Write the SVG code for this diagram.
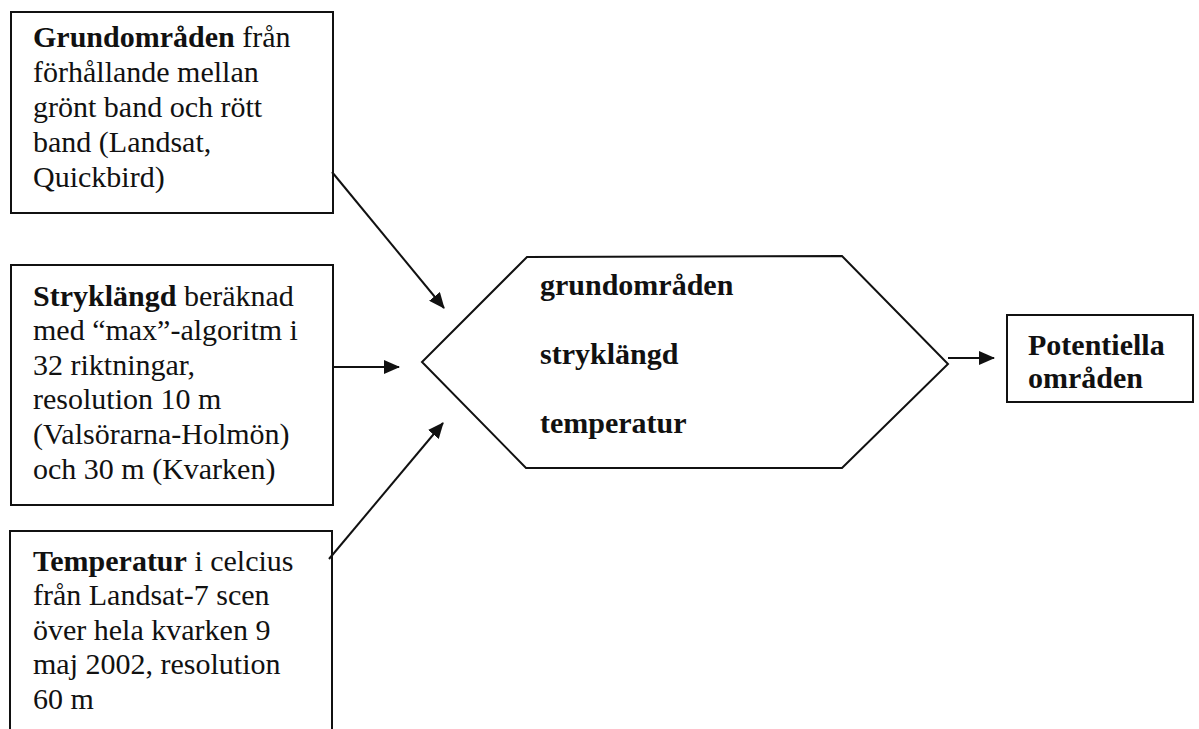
<svg xmlns="http://www.w3.org/2000/svg" width="1199" height="729" viewBox="0 0 1199 729">
<style>
.box{fill:#fff;stroke:#111;stroke-width:2}
.t{font-family:"Liberation Serif","Times New Roman",serif;font-size:30px;fill:#111}
.b{font-weight:bold}
.con{stroke:#111;stroke-width:2;fill:none}
</style>
<defs>
<marker id="ah" markerWidth="16" markerHeight="14" refX="15" refY="7" orient="auto" markerUnits="userSpaceOnUse">
<path d="M0,0 L16,7 L0,14 z" fill="#111"/>
</marker>
</defs>
<rect width="1199" height="729" fill="#fff"/>
<g id="node-grund">
<rect class="box" x="11" y="12" width="322" height="201"/>
<text class="t" x="33" y="47"><tspan class="b">Grundområden</tspan> från</text>
<text class="t" x="33" y="82">förhållande mellan</text>
<text class="t" x="33" y="117">grönt band och rött</text>
<text class="t" x="33" y="152">band (Landsat,</text>
<text class="t" x="33" y="187">Quickbird)</text>
</g>
<g id="node-stryk">
<rect class="box" x="11" y="265" width="322" height="240"/>
<text class="t" x="33" y="306"><tspan class="b">Stryklängd</tspan> beräknad</text>
<text class="t" x="33" y="340">med “max”-algoritm i</text>
<text class="t" x="33" y="375">32 riktningar,</text>
<text class="t" x="33" y="409">resolution 10 m</text>
<text class="t" x="33" y="444">(Valsörarna-Holmön)</text>
<text class="t" x="33" y="479">och 30 m (Kvarken)</text>
</g>
<g id="node-temp">
<path class="box" d="M10,740 L10,531 L332,531 L332,740"/>
<text class="t" x="33" y="571"><tspan class="b">Temperatur</tspan> i celcius</text>
<text class="t" x="33" y="605">från Landsat-7 scen</text>
<text class="t" x="33" y="640">över hela kvarken 9</text>
<text class="t" x="33" y="674">maj 2002, resolution</text>
<text class="t" x="33" y="709">60 m</text>
</g>
<g id="node-hex">
<polygon class="box" points="527,257 842,256 948,364 842,468 526,468 422,362"/>
<text class="t b" x="540" y="295">grundområden</text>
<text class="t b" x="540" y="364">stryklängd</text>
<text class="t b" x="540" y="433">temperatur</text>
</g>
<g id="node-pot">
<rect class="box" x="1007" y="315" width="186" height="87"/>
<text class="t b" x="1028" y="355">Potentiella</text>
<text class="t b" x="1028" y="388">områden</text>
</g>
<g id="connectors">
<line class="con" x1="332" y1="172" x2="444" y2="308" marker-end="url(#ah)"/>
<line class="con" x1="333" y1="367" x2="399" y2="367" marker-end="url(#ah)"/>
<line class="con" x1="329" y1="559" x2="443" y2="423" marker-end="url(#ah)"/>
<line class="con" x1="948" y1="358" x2="994" y2="358" marker-end="url(#ah)"/>
</g>
</svg>
